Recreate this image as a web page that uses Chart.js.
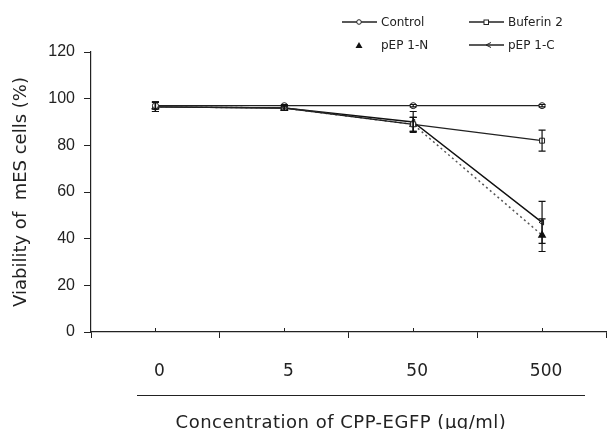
<!DOCTYPE html>
<html><head><meta charset="utf-8">
<script src="https://cdn.jsdelivr.net/npm/chart.js@4.4.1/dist/chart.umd.min.js"></script>
<style>
html,body{margin:0;padding:0;background:#fff;}
#wrap{position:relative;width:612px;height:429px;overflow:hidden;font-family:"DejaVu Sans",sans-serif;color:#222;}
#c{position:absolute;left:0;top:0;}
.lg{position:absolute;font-size:12px;line-height:14px;white-space:nowrap;}
.lg svg{position:absolute;}
#xtitle{position:absolute;top:412px;left:0;width:682px;text-align:center;font-size:18px;line-height:20px;letter-spacing:0.5px;white-space:nowrap;}
#sep{position:absolute;left:137px;top:395px;width:448px;height:1px;background:#222;}
</style></head>
<body><div id="wrap">
<canvas id="c" width="612" height="429"></canvas>
<div id="legend"></div>
<div id="sep"></div>
<div id="xtitle">Concentration of CPP-EGFP (μg/ml)</div>
</div>
<script>
const categories = ['0', '5', '50', '500'];
const controlVals = [97, 97, 97, 97];
const buferinVals = [96.5, 96, 89, 82];
const pep1nVals = [96.5, 96, 89, 41.5];
const pep1cVals = [96.5, 96, 90, 47];
const controlErr = [1.5, 0.5, 0.5, 0.5];
const buferinErr = [2, 1, 3, 4.5];
const pep1nErr = [2, 1, 3, 7];
const pep1cErr = [2, 1, 4.5, 9];
const yTicks = [0, 20, 40, 60, 80, 100, 120];

// legend (HTML)
const legendItems = [
  {name:'Control', x:342, y:15, sym:'<line x1="0" y1="7" x2="35" y2="7" stroke="#222" stroke-width="1.3"/><circle cx="17" cy="7" r="2.3" fill="#fff" stroke="#222" stroke-width="1"/>'},
  {name:'Buferin 2', x:469, y:15, sym:'<line x1="0" y1="7" x2="35" y2="7" stroke="#222" stroke-width="1.3"/><rect x="15" y="5" width="4.5" height="4.5" fill="#fff" stroke="#222" stroke-width="1"/>'},
  {name:'pEP 1-N', x:342, y:38, sym:'<polygon points="17,4 20.5,10 13.5,10" fill="#111"/>'},
  {name:'pEP 1-C', x:469, y:38, sym:'<line x1="0" y1="7" x2="35" y2="7" stroke="#222" stroke-width="1.3"/><polyline points="22,4.5 17,7 22,9.5" fill="none" stroke="#222" stroke-width="1"/>'}
];
const lg = document.getElementById('legend');
legendItems.forEach(it => {
  const d = document.createElement('div');
  d.className = 'lg';
  d.style.left = it.x + 'px'; d.style.top = it.y + 'px';
  d.innerHTML = '<svg width="36" height="14" style="left:0;top:0">' + it.sym + '</svg><span style="margin-left:39px">' + it.name + '</span>';
  lg.appendChild(d);
});

const errMap = [controlErr, buferinErr, pep1nErr, pep1cErr];
const errorBars = {
  id: 'errorBars',
  afterDatasetsDraw(chart) {
    const ctx = chart.ctx;
    const ys = chart.scales.y;
    ctx.save();
    ctx.strokeStyle = '#111';
    ctx.lineWidth = 1.2;
    chart.data.datasets.forEach((ds, i) => {
      const meta = chart.getDatasetMeta(i);
      meta.data.forEach((pt, j) => {
        const v = ds.data[j], e = errMap[i][j];
        const yt = ys.getPixelForValue(v + e), yb = ys.getPixelForValue(v - e);
        const x = pt.x;
        ctx.beginPath();
        ctx.moveTo(x, yt); ctx.lineTo(x, yb);
        ctx.moveTo(x - 3.5, yt); ctx.lineTo(x + 3.5, yt);
        ctx.moveTo(x - 3.5, yb); ctx.lineTo(x + 3.5, yb);
        ctx.stroke();
      });
    });
    ctx.restore();
  },
  afterDraw(chart) {
    const xs = chart.scales.x;
    const ctx = chart.ctx;
    ctx.save();
    ctx.strokeStyle = '#222'; ctx.lineWidth = 1;
    categories.forEach((c, i) => {
      const x = Math.round(xs.getPixelForValue(i)) + 0.5;
      ctx.beginPath(); ctx.moveTo(x, xs.top); ctx.lineTo(x, xs.top - 4); ctx.stroke();
    });
    ctx.restore();
  }
};

const ctx = document.getElementById('c').getContext('2d');
new Chart(ctx, {
  type: 'line',
  data: {
    labels: categories,
    datasets: [
      {label:'Control', data: controlVals, borderColor:'#222', borderWidth:1.4, pointStyle:'circle', pointRadius:3, pointBackgroundColor:'#fff', pointBorderColor:'#222', pointBorderWidth:1, tension:0},
      {label:'Buferin 2', data: buferinVals, borderColor:'#222', borderWidth:1.4, pointStyle:'rect', pointRadius:3.5, pointBackgroundColor:'#fff', pointBorderColor:'#222', pointBorderWidth:1, tension:0},
      {label:'pEP 1-N', data: pep1nVals, borderColor:'#555', borderWidth:1.5, borderDash:[2,3], pointStyle:'triangle', pointRadius:3.5, pointBackgroundColor:'#111', pointBorderColor:'#111', tension:0},
      {label:'pEP 1-C', data: pep1cVals, borderColor:'#111', borderWidth:1.4, pointStyle:'triangle', pointRotation:270, pointRadius:3, pointBackgroundColor:'#fff', pointBorderColor:'#111', pointBorderWidth:1, tension:0}
    ]
  },
  options: {
    responsive: false,
    animation: false,
    devicePixelRatio: 1,
    layout: {padding: {top: 52, right: -3, left: 0, bottom: 0}},
    plugins: {legend: {display: false}, tooltip: {enabled: false}},
    scales: {
      x: {
        type: 'category',
        offset: true,
        grid: {offset: true, drawOnChartArea: false, drawTicks: true, tickLength: 6, color: '#222'},
        border: {color: '#222', width: 1.2},
        ticks: {padding: 23, labelOffset: 4, color: '#222', font: {family: 'DejaVu Sans', size: 17}},
        afterFit(s) { s.height = 97; s.paddingLeft = 0; s.paddingRight = 0; }
      },
      y: {
        min: 0, max: 120,
        afterBuildTicks(s) { s.ticks = yTicks.map(v => ({value: v})); },
        grid: {drawOnChartArea: false, drawTicks: true, tickLength: 7, color: '#222'},
        border: {color: '#222', width: 1.2},
        ticks: {padding: 9, color: '#222', font: {family: '"Liberation Sans", sans-serif', size: 16}},
        title: {display: true, text: 'Viability of  mES cells (%)', color: '#222', font: {family: 'DejaVu Sans', size: 18}, padding: {top: 11, bottom: 0}},
        afterFit(s) { s.width = 91; }
      }
    }
  },
  plugins: [errorBars]
});
</script>
</body></html>
